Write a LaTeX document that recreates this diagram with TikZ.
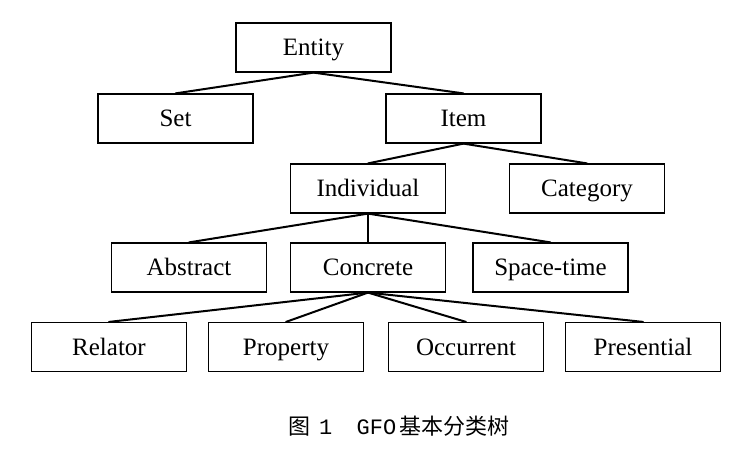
\documentclass[tikz,border=0pt]{standalone}
\usepackage{fontspec}
\setmainfont{Liberation Serif}
\newfontfamily\cjkfont{Noto Sans CJK SC}
\newfontfamily\capmono{Liberation Mono}
\usepackage{tikz}
\tikzset{%
  box/.style={draw,line width=0.6pt,inner sep=0pt,minimum width=77.5pt,
    minimum height=24.5pt,text height=10.5pt,text depth=2.5pt,
    font=\fontsize{12.5}{15}\selectfont},
  link/.style={line width=1pt,line cap=round}
}
\begin{document}
\begin{tikzpicture}[x=0.5pt,y=-0.5pt]
    \useasboundingbox (0,0) rectangle (740,456);
    %
    \node[box] (entity) at (313.5,47.5) {Entity};
    \node[box] (set) at (175.5,118.5) {Set};
    \node[box] (item) at (463.5,118.5) {Item};
    \node[box] (individual) at (368,188.5) {Individual};
    \node[box] (category) at (587,188.5) {Category};
    \node[box] (abstract) at (189,267.5) {Abstract};
    \node[box] (concrete) at (368,267.5) {Concrete};
    \node[box] (spacetime) at (550.5,267.5) {Space-time};
    \node[box] (relator) at (109,347) {Relator};
    \node[box] (property) at (286,347) {Property};
    \node[box] (occurrent) at (466,347) {Occurrent};
    \node[box] (presential) at (643,347) {Presential};
    %
    \foreach \a/\b in {entity/set, entity/item, item/individual,
      item/category, individual/abstract, individual/concrete,
      individual/spacetime, concrete/relator, concrete/property,
      concrete/occurrent, concrete/presential}
      \draw[link] (\a.south) -- (\b.north);
    %
    \node[font=\fontsize{11}{13}\selectfont,inner sep=0pt] (caption)
      at (399,426) {\cjkfont 图\hspace{0.4em}{\capmono 1}\hspace{1.1em}{\capmono GFO}\hspace{0.15em}基本分类树};
  \end{tikzpicture}
\end{document}
